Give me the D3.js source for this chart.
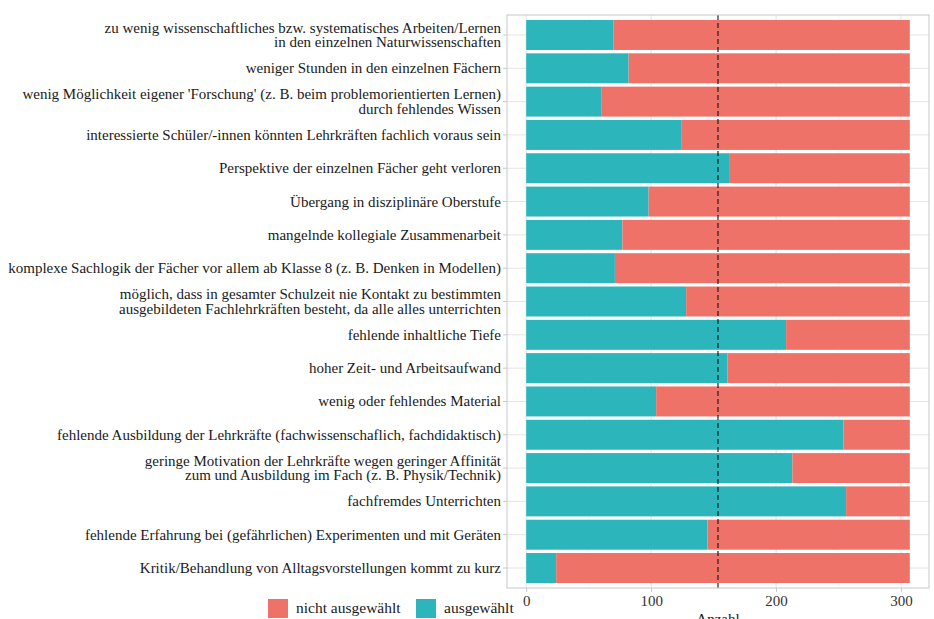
<!DOCTYPE html>
<html>
<head>
<meta charset="utf-8">
<script src="https://cdn.jsdelivr.net/npm/d3@7"></script>
<style>
  body { margin: 0; background: #fff; }
  svg { font-family: "Liberation Serif", "DejaVu Serif", serif; }
</style>
</head>
<body>
<svg id="svg" width="934" height="619"></svg>
<script>
// categories, top to bottom (each entry = lines of the label)
var categories = [
  ["zu wenig wissenschaftliches bzw. systematisches Arbeiten/Lernen", "in den einzelnen Naturwissenschaften"],
  ["weniger Stunden in den einzelnen Fächern"],
  ["wenig Möglichkeit eigener 'Forschung' (z. B. beim problemorientierten Lernen)", "durch fehlendes Wissen"],
  ["interessierte Schüler/-innen könnten Lehrkräften fachlich voraus sein"],
  ["Perspektive der einzelnen Fächer geht verloren"],
  ["Übergang in disziplinäre Oberstufe"],
  ["mangelnde kollegiale Zusammenarbeit"],
  ["komplexe Sachlogik der Fächer vor allem ab Klasse 8 (z. B. Denken in Modellen)"],
  ["möglich, dass in gesamter Schulzeit nie Kontakt zu bestimmten", "ausgebildeten Fachlehrkräften besteht, da alle alles unterrichten"],
  ["fehlende inhaltliche Tiefe"],
  ["hoher Zeit- und Arbeitsaufwand"],
  ["wenig oder fehlendes Material"],
  ["fehlende Ausbildung der Lehrkräfte (fachwissenschaflich, fachdidaktisch)"],
  ["geringe Motivation der Lehrkräfte wegen geringer Affinität", "zum und Ausbildung im Fach (z. B. Physik/Technik)"],
  ["fachfremdes Unterrichten"],
  ["fehlende Erfahrung bei (gefährlichen) Experimenten und mit Geräten"],
  ["Kritik/Behandlung von Alltagsvorstellungen kommt zu kurz"]
];
var ausgewaehlt =      [70, 82, 60, 124, 163, 98, 77, 71, 128, 208, 161, 104, 254, 213, 256, 145, 24];
var nichtAusgewaehlt = [237, 225, 247, 183, 144, 209, 230, 236, 179, 99, 146, 203, 53, 94, 51, 162, 283];
var xTicks = [0, 100, 200, 300];
var halfLine = 153.5;
var seriesNames = ["nicht ausgewählt", "ausgewählt"];
var colors = { "nicht ausgewählt": "#ef7268", "ausgewählt": "#2cb6bb" };

var svg = d3.select("#svg");
var panel = { left: 507, right: 929, top: 15, bottom: 588 };

var rows = categories.map(function (c, i) {
  return { key: i, label: c, sel: ausgewaehlt[i], notSel: nichtAusgewaehlt[i] };
});
var total = d3.max(rows, function (d) { return d.sel + d.notSel; });

var xScale = d3.scaleLinear()
  .domain([-0.05 * total, total * 1.05])
  .range([panel.left, panel.right]);

var yScale = d3.scaleBand()
  .domain(rows.map(function (d) { return d.key; }))
  .range([panel.top, panel.bottom])
  .paddingInner(0.1)
  .paddingOuter(0.15);

// grid
var grid = svg.append("g");
[50, 150, 250].forEach(function (v) {
  grid.append("line").attr("x1", xScale(v)).attr("x2", xScale(v))
    .attr("y1", panel.top).attr("y2", panel.bottom)
    .attr("stroke", "#f4f4f4").attr("stroke-width", 0.6);
});
xTicks.forEach(function (v) {
  grid.append("line").attr("x1", xScale(v)).attr("x2", xScale(v))
    .attr("y1", panel.top).attr("y2", panel.bottom)
    .attr("stroke", "#e4e4e4").attr("stroke-width", 1);
});
rows.forEach(function (d) {
  var yc = yScale(d.key) + yScale.bandwidth() / 2;
  grid.append("line").attr("x1", panel.left).attr("x2", panel.right)
    .attr("y1", yc).attr("y2", yc)
    .attr("stroke", "#e4e4e4").attr("stroke-width", 1);
});

// bars
var bars = svg.append("g");
bars.selectAll("rect.sel")
  .data(rows)
  .enter()
  .append("rect")
  .attr("class", "sel")
  .attr("x", xScale(0))
  .attr("y", function (d) { return yScale(d.key); })
  .attr("width", function (d) { return xScale(d.sel) - xScale(0); })
  .attr("height", yScale.bandwidth())
  .attr("fill", colors["ausgewählt"]);

bars.selectAll("rect.notsel")
  .data(rows)
  .enter()
  .append("rect")
  .attr("class", "notsel")
  .attr("x", function (d) { return xScale(d.sel); })
  .attr("y", function (d) { return yScale(d.key); })
  .attr("width", function (d) { return xScale(d.sel + d.notSel) - xScale(d.sel); })
  .attr("height", yScale.bandwidth())
  .attr("fill", colors["nicht ausgewählt"]);

// dashed half line
svg.append("line")
  .attr("x1", xScale(halfLine)).attr("x2", xScale(halfLine))
  .attr("y1", panel.top).attr("y2", panel.bottom)
  .attr("stroke", "#111").attr("stroke-width", 1.1)
  .attr("stroke-dasharray", "5,3");

// panel border
svg.append("rect")
  .attr("x", panel.left).attr("y", panel.top)
  .attr("width", panel.right - panel.left).attr("height", panel.bottom - panel.top)
  .attr("fill", "none").attr("stroke", "#c8c8c8").attr("stroke-width", 1);

// y axis labels
var yAxis = svg.append("g");
rows.forEach(function (d) {
  var yc = yScale(d.key) + yScale.bandwidth() / 2;
  yAxis.append("line").attr("x1", panel.left - 4).attr("x2", panel.left)
    .attr("y1", yc).attr("y2", yc).attr("stroke", "#c8c8c8");
  var n = d.label.length;
  var t = yAxis.append("text")
    .attr("x", panel.left - 6)
    .attr("text-anchor", "end")
    .attr("font-size", "15px")
    .attr("fill", "#1a1a1a");
  d.label.forEach(function (line, j) {
    t.append("tspan")
      .attr("x", panel.left - 6)
      .attr("y", yc + (j - (n - 1) / 2) * 14.5 + 5)
      .text(line);
  });
});

// x axis
var xAxis = svg.append("g")
  .attr("transform", "translate(0," + panel.bottom + ")")
  .call(d3.axisBottom(xScale).tickValues(xTicks).tickSize(4).tickPadding(3));
xAxis.select(".domain").remove();
xAxis.selectAll(".tick line").attr("stroke", "#c8c8c8");
xAxis.selectAll(".tick text")
  .attr("font-family", "Liberation Serif, serif")
  .attr("font-size", "15px").attr("fill", "#333");

svg.append("text")
  .attr("x", (xScale(0) + xScale(total)) / 2)
  .attr("y", 624)
  .attr("text-anchor", "middle")
  .attr("font-size", "15px")
  .attr("fill", "#1a1a1a")
  .text("Anzahl");

// legend
var legend = svg.append("g");
var lx = [268, 416];
seriesNames.forEach(function (s, i) {
  legend.append("rect")
    .attr("x", lx[i]).attr("y", 599)
    .attr("width", 20).attr("height", 19)
    .attr("fill", colors[s]);
  legend.append("text")
    .attr("x", lx[i] + 28).attr("y", 613)
    .attr("font-size", "15.5px")
    .attr("fill", "#1a1a1a")
    .text(s);
});
</script>
</body>
</html>
